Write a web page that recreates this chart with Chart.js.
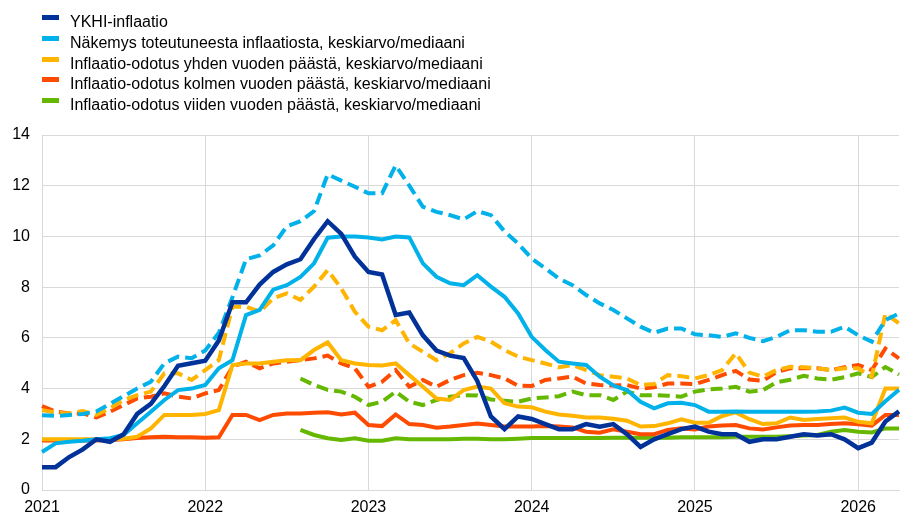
<!DOCTYPE html>
<html>
<head>
<meta charset="utf-8">
<script src="https://cdn.jsdelivr.net/npm/chart.js@4"></script>
<style>
  body { margin: 0; background: #fff; font-family: Arial, "Liberation Sans", sans-serif; }
  #wrap { position: relative; width: 900px; height: 516px; }
  #legend { position: absolute; left: 42px; top: 12px; font-size: 16px; color: #000; }
  .row { height: 20.8px; line-height: 20.8px; display: flex; align-items: flex-start; white-space: nowrap; }
  .box { width: 17px; height: 5px; margin-top: 3px; margin-right: 11px; }
</style>
</head>
<body>
<div id="wrap">
  <canvas id="chart" width="900" height="516"></canvas>
  <div id="legend"></div>
</div>
<script>
// months Jan 2021 .. Apr 2026
var months = [];
for (var y = 2021; y <= 2026; y++) {
  for (var m = 1; m <= 12; m++) {
    if (y == 2026 && m > 4) break;
    months.push(y + '-' + (m < 10 ? '0' + m : m));
  }
}

var yTicks = [0, 2, 4, 6, 8, 10, 12, 14];

var legendLabels = [
  "YKHI-inflaatio",
  "Näkemys toteutuneesta inflaatiosta, keskiarvo/mediaani",
  "Inflaatio-odotus yhden vuoden päästä, keskiarvo/mediaani",
  "Inflaatio-odotus kolmen vuoden päästä, keskiarvo/mediaani",
  "Inflaatio-odotus viiden vuoden päästä, keskiarvo/mediaani"
];

var ykhi = [0.9,0.9,1.3,1.6,2.0,1.9,2.2,3.0,3.4,4.1,4.9,5.0,
  5.1,5.9,7.4,7.4,8.1,8.6,8.9,9.1,9.9,10.6,10.1,9.2,
  8.6,8.5,6.9,7.0,6.1,5.5,5.3,5.2,4.3,2.9,2.4,2.9,
  2.8,2.6,2.4,2.4,2.6,2.5,2.6,2.2,1.7,2.0,2.2,2.4,
  2.5,2.3,2.2,2.2,1.9,2.0,2.0,2.1,2.2,2.15,2.2,2.0,
  1.65,1.87,2.7,3.1];

var perceivedMean = [2.95,2.92,2.96,3.0,3.1,3.4,3.7,4.0,4.27,5.0,5.26,5.2,
  5.5,6.2,7.6,9.1,9.25,9.65,10.4,10.6,11.0,12.45,12.2,11.96,
  11.7,11.7,12.8,12.0,11.17,10.97,10.84,10.67,11.0,10.84,10.2,9.72,
  9.13,8.74,8.34,8.08,7.69,7.36,7.1,6.77,6.44,6.2,6.37,6.37,
  6.14,6.1,6.04,6.18,6.0,5.87,6.04,6.3,6.3,6.24,6.24,6.44,
  6.1,5.85,6.7,6.96];

var perceivedMedian = [1.5,1.84,1.9,1.94,2.0,2.04,2.17,2.63,3.09,3.55,3.94,4.0,
  4.14,4.8,5.12,6.9,7.1,7.9,8.08,8.4,8.94,9.95,10.0,10.0,
  9.96,9.88,10.0,9.96,8.94,8.41,8.15,8.08,8.47,8.02,7.62,6.96,
  6.04,5.52,5.06,4.99,4.93,4.47,4.12,3.94,3.48,3.22,3.42,3.44,
  3.35,3.09,3.09,3.1,3.09,3.09,3.09,3.09,3.09,3.1,3.13,3.25,
  3.05,3.0,3.5,3.95];

var oneYearMean = [3.15,3.05,3.02,3.11,2.96,3.22,3.55,3.74,3.88,4.6,4.6,4.34,
  4.73,5.12,7.23,7.23,7.03,7.56,7.75,7.5,8.02,8.67,7.95,7.03,
  6.44,6.3,6.7,5.78,5.45,5.12,5.39,5.78,6.04,5.85,5.52,5.26,
  5.12,4.99,4.84,4.93,4.73,4.53,4.47,4.4,4.14,4.18,4.53,4.49,
  4.4,4.53,4.73,5.39,4.63,4.47,4.73,4.86,4.84,4.8,4.73,4.8,
  4.8,4.47,6.96,6.57];

var oneYearMedian = [2.0,2.0,2.0,2.0,2.0,2.0,2.02,2.1,2.43,2.96,2.96,2.96,
  3.0,3.15,4.93,4.99,4.99,5.06,5.12,5.12,5.52,5.82,5.12,4.99,
  4.93,4.91,4.99,4.53,4.07,3.61,3.55,3.94,4.08,4.0,3.42,3.29,
  3.26,3.09,2.98,2.93,2.86,2.86,2.81,2.73,2.5,2.52,2.63,2.79,
  2.65,2.65,2.92,3.06,2.79,2.6,2.63,2.86,2.76,2.8,2.83,2.86,
  2.69,2.63,4.0,4.0];

var threeYearMean = [3.31,3.09,3.02,3.02,2.86,3.09,3.35,3.61,3.68,3.81,3.68,3.61,
  3.81,3.94,4.86,5.06,4.8,4.99,5.06,5.12,5.19,5.3,4.99,4.8,
  4.07,4.27,4.73,4.07,4.34,4.07,4.34,4.53,4.62,4.53,4.4,4.11,
  4.1,4.34,4.4,4.47,4.2,4.14,4.12,4.14,4.0,4.05,4.2,4.2,
  4.18,4.34,4.53,4.7,4.36,4.31,4.66,4.8,4.8,4.8,4.73,4.84,
  4.93,4.73,5.58,5.19];

var threeYearMedian = [1.95,1.95,1.95,1.95,1.95,1.97,2.0,2.05,2.08,2.1,2.08,2.08,
  2.06,2.08,2.96,2.96,2.76,2.96,3.02,3.02,3.05,3.07,2.98,3.05,
  2.56,2.52,2.98,2.6,2.56,2.46,2.5,2.56,2.62,2.56,2.5,2.5,
  2.5,2.52,2.5,2.47,2.3,2.26,2.39,2.3,2.2,2.2,2.37,2.43,
  2.39,2.5,2.54,2.56,2.43,2.39,2.47,2.54,2.56,2.56,2.6,2.63,
  2.59,2.54,2.96,2.96];

var fiveYearMean = [null,null,null,null,null,null,null,null,null,null,null,null,
  null,null,null,null,null,null,null,4.4,4.14,3.95,3.88,3.68,
  3.35,3.48,3.88,3.48,3.35,3.55,3.68,3.74,3.73,3.57,3.52,3.48,
  3.61,3.65,3.7,3.88,3.74,3.74,3.55,3.88,3.74,3.74,3.72,3.68,
  3.88,3.97,4.0,4.07,3.88,3.94,4.25,4.35,4.5,4.4,4.35,4.45,
  4.6,4.45,4.85,4.55];

var fiveYearMedian = [null,null,null,null,null,null,null,null,null,null,null,null,
  null,null,null,null,null,null,null,2.37,2.17,2.04,1.97,2.04,
  1.94,1.94,2.04,2.0,2.0,2.0,2.0,2.02,2.02,2.0,2.0,2.02,
  2.05,2.05,2.05,2.05,2.05,2.05,2.06,2.06,2.06,2.06,2.06,2.08,
  2.08,2.08,2.08,2.1,2.1,2.1,2.1,2.12,2.15,2.17,2.3,2.37,
  2.3,2.27,2.43,2.43];

var colors = ["#003299", "#00b1ea", "#ffb400", "#ff4b00", "#65b800"];
var dash = [12, 6];

function line(data, color, dashed, width) {
  return {
    data: data,
    borderColor: color,
    backgroundColor: color,
    borderWidth: width || 4,
    borderDash: dashed ? dash : [],
    borderCapStyle: 'butt',
    pointRadius: 0,
    tension: 0,
    fill: false
  };
}

// html legend
var legendHtml = '';
for (var i = 0; i < legendLabels.length; i++) {
  legendHtml += '<div class="row"><div class="box" style="background:' + colors[i] + '"></div>' + legendLabels[i] + '</div>';
}
document.getElementById('legend').innerHTML = legendHtml;

var font = { family: 'Arial, "Liberation Sans", sans-serif', size: 16, lineHeight: 1 };

new Chart("chart", {
  type: "line",
  data: {
    labels: months,
    datasets: [
      line(ykhi, colors[0], false, 4.5),
      line(perceivedMean, colors[1], true),
      line(perceivedMedian, colors[1], false),
      line(oneYearMean, colors[2], true),
      line(oneYearMedian, colors[2], false),
      line(threeYearMean, colors[3], true),
      line(threeYearMedian, colors[3], false),
      line(fiveYearMean, colors[4], true),
      line(fiveYearMedian, colors[4], false)
    ]
  },
  options: {
    responsive: false,
    animation: false,
    layout: { padding: { top: 135, right: 1, bottom: 0, left: 0 } },
    plugins: {
      legend: { display: false },
      tooltip: { enabled: false }
    },
    scales: {
      x: {
        afterFit: function(scale) {
          scale.height = 26;
          scale.paddingLeft = 0;
          scale.paddingRight = 0;
        },
        grid: {
          drawTicks: false,
          color: function(ctx) { return ctx.index % 12 === 0 ? '#d9d9d9' : 'rgba(0,0,0,0)'; }
        },
        border: { color: '#d9d9d9' },
        ticks: {
          autoSkip: false,
          maxRotation: 0,
          padding: 10,
          color: '#000',
          font: font,
          callback: function(val, idx) { return idx % 12 === 0 ? months[idx].slice(0, 4) : ''; }
        }
      },
      y: {
        min: yTicks[0],
        max: yTicks[yTicks.length - 1],
        afterFit: function(scale) {
          scale.width = 42;
          scale.paddingTop = 0;
          scale.paddingBottom = 0;
        },
        afterBuildTicks: function(scale) { scale.ticks = yTicks.map(function(v) { return { value: v }; }); },
        grid: { drawTicks: false, color: '#d9d9d9' },
        border: { color: '#d9d9d9' },
        ticks: { padding: 12, color: '#000', font: font }
      }
    }
  }
});
</script>
</body>
</html>
